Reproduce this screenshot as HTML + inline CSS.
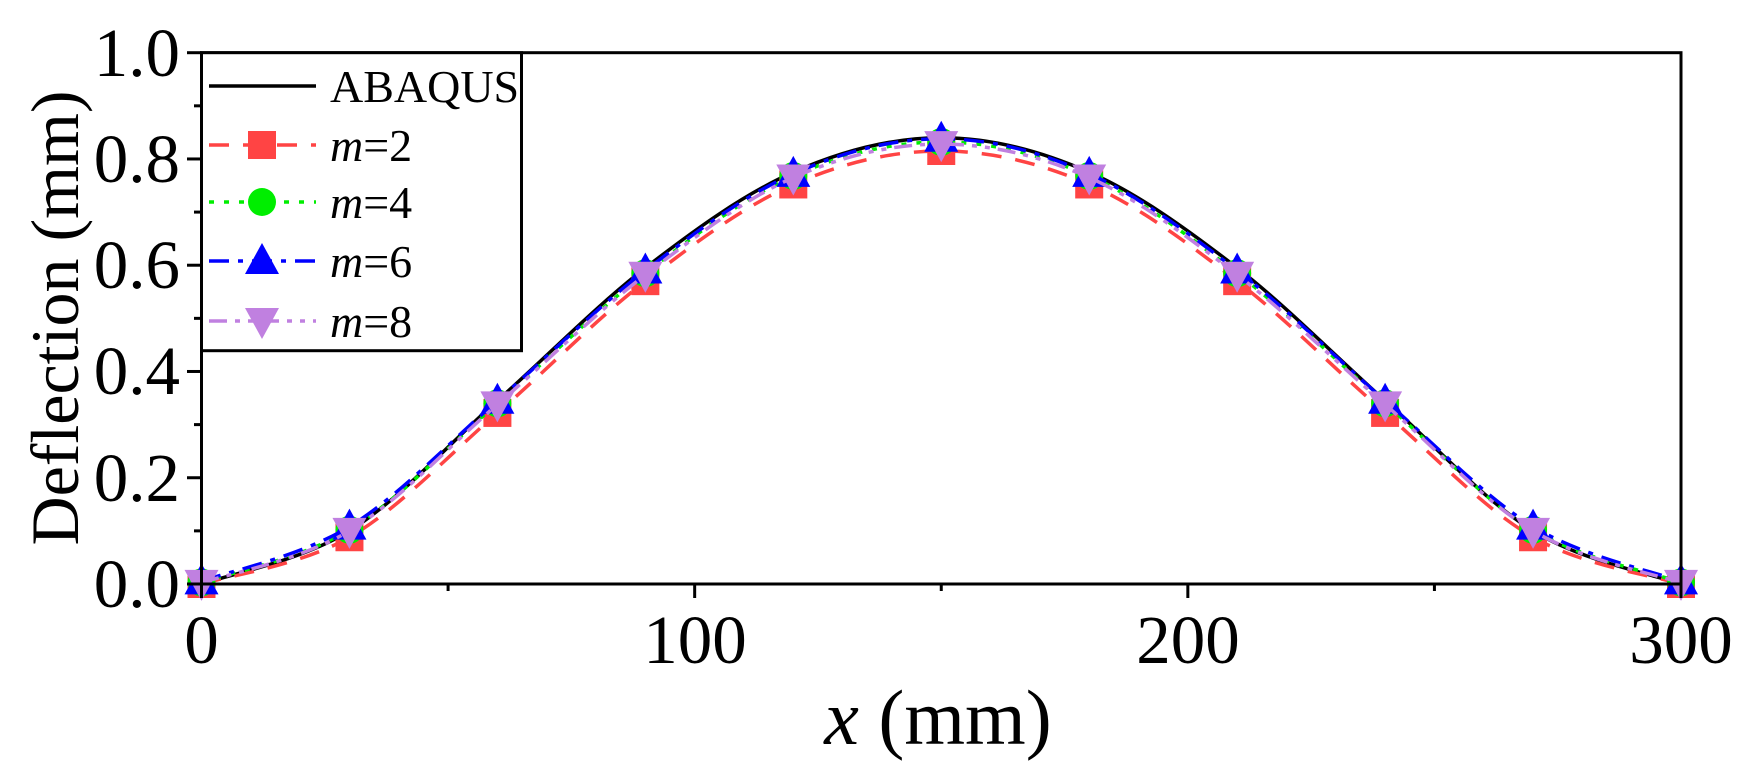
<!DOCTYPE html>
<html><head><meta charset="utf-8"><style>
html,body{margin:0;padding:0;background:#fff;}
svg{display:block;}
text{font-family:"Liberation Serif",serif;fill:#000;}
</style></head><body>
<svg id="s" width="1753" height="768" viewBox="0 0 1753 768" xmlns="http://www.w3.org/2000/svg">
<g id="data"></g>
<rect x="201.5" y="52.7" width="1479.5" height="531.3" fill="none" stroke="#000" stroke-width="3"/>
<line x1="1681" y1="584" x2="1681" y2="598" stroke="#000" stroke-width="3"/>
<g id="ticks" stroke="#000" stroke-width="3"></g>
<g font-size="69" text-anchor="end">
<text x="180" y="607">0.0</text>
<text x="180" y="501">0.2</text>
<text x="180" y="394">0.4</text>
<text x="180" y="288">0.6</text>
<text x="180" y="182">0.8</text>
<text x="180" y="76">1.0</text>
</g>
<g font-size="69" text-anchor="middle">
<text x="201.5" y="663">0</text>
<text x="695" y="663">100</text>
<text x="1188" y="663">200</text>
<text x="1681" y="663">300</text>
</g>
<text x="938" y="744" font-size="78" text-anchor="middle"><tspan font-style="italic">x</tspan> (mm)</text>
<text transform="translate(78,318) rotate(-90)" font-size="68" text-anchor="middle">Deflection (mm)</text>
<rect x="201.5" y="52.7" width="320" height="298" fill="#fff" stroke="#000" stroke-width="3"/>
<g id="leg"></g>
<g font-size="46">
<text x="330" y="102">ABAQUS</text>
<text x="330" y="161"><tspan font-style="italic">m</tspan>=2</text>
<text x="330" y="218"><tspan font-style="italic">m</tspan>=4</text>
<text x="330" y="277"><tspan font-style="italic">m</tspan>=6</text>
<text x="330" y="337"><tspan font-style="italic">m</tspan>=8</text>
</g>
</svg>
<script>
var NS="http://www.w3.org/2000/svg";
function X(v){return 201.5+v*4.9317;}
function Y(v){return 584-v*531.3;}
function el(p,t,a){var e=document.createElementNS(NS,t);for(var k in a)e.setAttribute(k,a[k]);p.appendChild(e);return e;}
var tk=document.getElementById('ticks');
for(var i=0;i<=10;i++){var y=Y(i/10);el(tk,'line',{x1:201.5,x2:i%2?194:187,y1:y,y2:y});}
for(var i=0;i<=6;i++){var x=X(i*50);el(tk,'line',{x1:x,x2:x,y1:584,y2:i%2?591:598});}
function mk(half){var xs=[],ys=[];for(var i=0;i<half.length;i++){xs.push(i*30);ys.push(half[i]);}
 for(var i=half.length-2;i>=0;i--){xs.push(300-i*30);ys.push(half[i]);}return [xs,ys];}
function path(xs,ys){
 var d="M"+X(xs[0])+","+Y(ys[0]);
 for(var i=0;i<xs.length-1;i++){
  var p0=[X(xs[Math.max(0,i-1)]),Y(ys[Math.max(0,i-1)])],p1=[X(xs[i]),Y(ys[i])],p2=[X(xs[i+1]),Y(ys[i+1])],p3=[X(xs[Math.min(xs.length-1,i+2)]),Y(ys[Math.min(xs.length-1,i+2)])];
  d+=" C"+(p1[0]+(p2[0]-p0[0])/6)+","+(p1[1]+(p2[1]-p0[1])/6)+" "+(p2[0]-(p3[0]-p1[0])/6)+","+(p2[1]-(p3[1]-p1[1])/6)+" "+p2[0]+","+p2[1];}
 return d;}
function marker(g,type,x,y,c){
 if(type=='sq')el(g,'rect',{x:x-14,y:y-14,width:28,height:28,fill:c});
 else if(type=='ci')el(g,'circle',{cx:x,cy:y,r:14,fill:c});
 else if(type=='up')el(g,'polygon',{points:(x-17)+","+(y+13)+" "+(x+17)+","+(y+13)+" "+x+","+(y-18),fill:c});
 else if(type=='dn')el(g,'polygon',{points:(x-17)+","+(y-13)+" "+(x+17)+","+(y-13)+" "+x+","+(y+18),fill:c});
}
var S=[
 {h:[0,0.1,0.345,0.595,0.775,0.84],c:'#000',d:'',m:null},
 {h:[0,0.088,0.322,0.57,0.752,0.815],c:'#ff4444',d:'20,14',m:'sq'},
 {h:[0.003,0.102,0.34,0.585,0.768,0.832],c:'#00ee00',d:'5,10',m:'ci'},
 {h:[0.005,0.108,0.345,0.59,0.772,0.838],c:'#0000ff',d:'20,9,5,9',m:'up'},
 {h:[0.002,0.1,0.338,0.582,0.765,0.828],c:'#c080e0',d:'18,8,5,8,5,8',m:'dn'}];
var g=document.getElementById('data'),lg=document.getElementById('leg');
var ly=[86,145,202,261,321];
S.forEach(function(s,k){var r=mk(s.h);
 var a={d:path(r[0],r[1]),fill:'none',stroke:s.c,'stroke-width':3.5};if(s.d)a['stroke-dasharray']=s.d;el(g,'path',a);
 var b={x1:209,x2:316,y1:ly[k],y2:ly[k],stroke:s.c,'stroke-width':3.5};if(s.d)b['stroke-dasharray']=s.d;el(lg,'line',b);
 if(s.m){for(var i=0;i<r[0].length;i++)marker(g,s.m,X(r[0][i]),Y(r[1][i]),s.c);marker(lg,s.m,262,ly[k],s.c);}
});
</script>
</body></html>
